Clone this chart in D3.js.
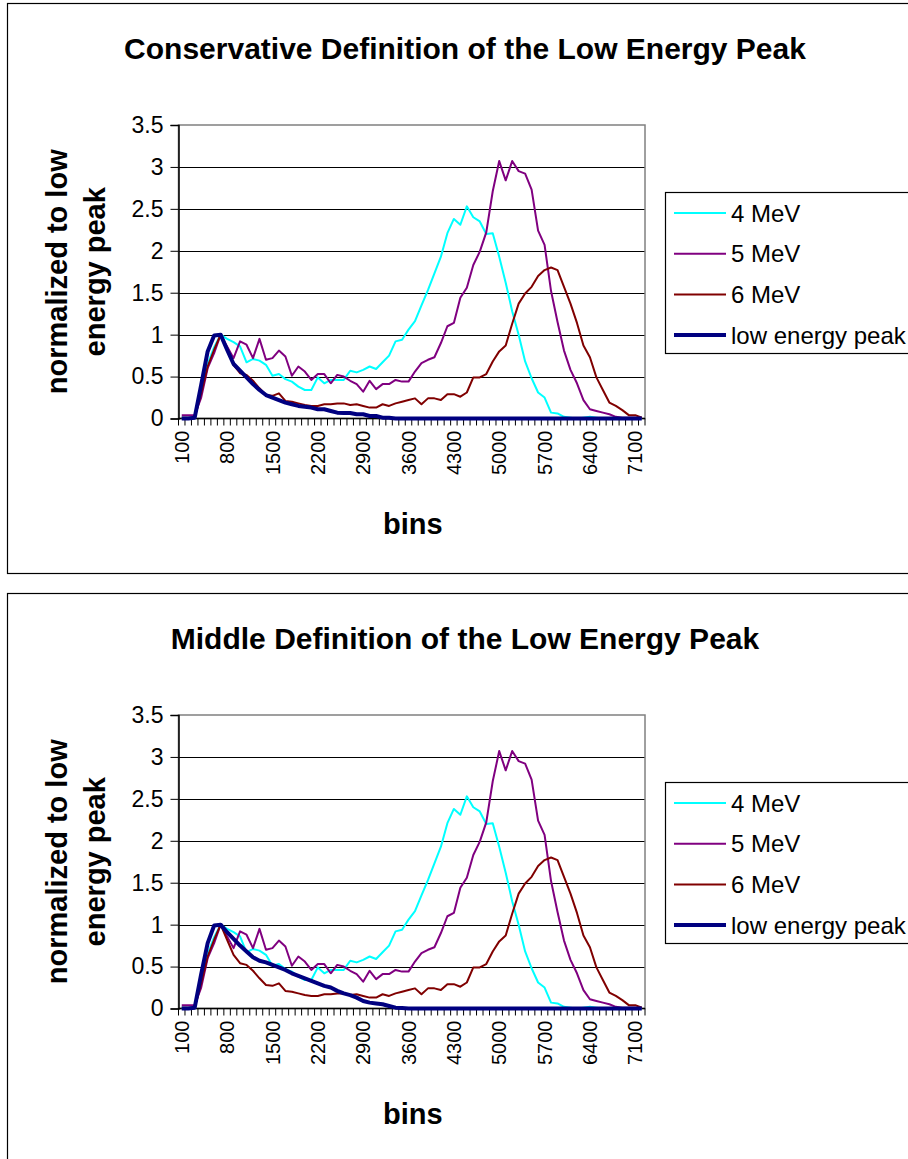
<!DOCTYPE html>
<html><head><meta charset="utf-8">
<script src="https://cdn.jsdelivr.net/npm/d3@7"></script>
<style>
body{margin:0;background:#fff}
svg{display:block}
text{font-family:"Liberation Sans",Arial,sans-serif;fill:#000}
</style>
</head><body>
<svg id="c" width="908" height="1159"></svg>
<script>
const bins = ["100","200","300","400","500","600","700","800","900","1000","1100","1200","1300","1400","1500","1600","1700","1800","1900","2000","2100","2200","2300","2400","2500","2600","2700","2800","2900","3000","3100","3200","3300","3400","3500","3600","3700","3800","3900","4000","4100","4200","4300","4400","4500","4600","4700","4800","4900","5000","5100","5200","5300","5400","5500","5600","5700","5800","5900","6000","6100","6200","6300","6400","6500","6600","6700","6800","6900","7000","7100","7200"];
const xTickLabels = ["100","800","1500","2200","2900","3600","4300","5000","5700","6400","7100"];
const yTicks = [0,0.5,1,1.5,2,2.5,3,3.5];
const yTickLabels = ["0","0.5","1","1.5","2","2.5","3","3.5"];

const mev4 = [0.01,0.01,0.01,0.35,0.65,0.85,1.0,0.95,0.91,0.86,0.67,0.71,0.69,0.64,0.51,0.53,0.47,0.44,0.38,0.34,0.34,0.49,0.42,0.46,0.46,0.46,0.57,0.55,0.58,0.62,0.59,0.67,0.75,0.92,0.94,1.06,1.16,1.35,1.53,1.73,1.93,2.21,2.38,2.31,2.53,2.40,2.35,2.20,2.21,1.93,1.62,1.28,1.0,0.68,0.48,0.31,0.25,0.07,0.06,0.02,0.01,0,0.01,0.02,0.01,0,0,0,0,0,0,0];
const mev5 = [0.04,0.04,0.04,0.25,0.6,0.78,1.0,0.86,0.72,0.92,0.88,0.72,0.95,0.70,0.72,0.81,0.74,0.51,0.62,0.56,0.46,0.53,0.53,0.42,0.52,0.5,0.45,0.41,0.32,0.45,0.35,0.41,0.41,0.46,0.44,0.44,0.56,0.66,0.70,0.73,0.90,1.10,1.14,1.44,1.56,1.83,1.99,2.22,2.71,3.07,2.84,3.07,2.95,2.92,2.73,2.24,2.07,1.52,1.15,0.81,0.58,0.42,0.22,0.11,0.09,0.07,0.05,0.02,0.01,0.01,0.01,0.01];
const mev6 = [0.01,0.01,0.01,0.3,0.62,0.82,1.0,0.82,0.64,0.54,0.52,0.45,0.36,0.28,0.27,0.30,0.21,0.20,0.18,0.16,0.15,0.15,0.17,0.17,0.18,0.18,0.16,0.17,0.15,0.13,0.13,0.17,0.15,0.18,0.2,0.22,0.24,0.17,0.24,0.24,0.22,0.29,0.29,0.26,0.31,0.49,0.49,0.53,0.68,0.8,0.87,1.13,1.37,1.49,1.57,1.70,1.77,1.80,1.77,1.57,1.37,1.14,0.87,0.73,0.49,0.34,0.19,0.15,0.1,0.04,0.04,0.01];
const lowPeakConservative = [0,0,0.01,0.4,0.8,0.99,1.0,0.82,0.65,0.57,0.49,0.41,0.34,0.28,0.25,0.22,0.19,0.17,0.15,0.14,0.13,0.11,0.11,0.09,0.07,0.065,0.065,0.05,0.05,0.03,0.03,0.01,0.01,0,0,0,0,0,0,0,0,0,0,0,0,0,0,0,0,0,0,0,0,0,0,0,0,0,0,0,0,0,0,0,0,0,0,0,0,0,0,0];
const lowPeakMiddle = [0,0,0.01,0.41,0.78,0.99,1.0,0.91,0.83,0.75,0.68,0.61,0.57,0.55,0.52,0.49,0.46,0.42,0.39,0.36,0.33,0.30,0.27,0.25,0.21,0.18,0.16,0.13,0.09,0.07,0.06,0.05,0.03,0.01,0.005,0,0,0,0,0,0,0,0,0,0,0,0,0,0,0,0,0,0,0,0,0,0,0,0,0,0,0,0,0,0,0,0,0,0,0,0,0];

const seriesNames = ["4 MeV","5 MeV","6 MeV","low energy peak"];
const seriesColors = ["#00FFFF","#800080","#800000","#000080"];
const seriesWidths = [2,2,2,4];
const chartTitles = ["Conservative Definition of the Low Energy Peak","Middle Definition of the Low Energy Peak"];
const peakSeries = [lowPeakConservative, lowPeakMiddle];

const svg = d3.select("#c");
const L = 178.5, R = 645, T = 125, B = 418.5;
const x = d3.scaleBand().domain(bins).range([L, R]);
const bw = x.bandwidth();
const y = d3.scaleLinear().domain([0, 3.5]).range([B, T]);

chartTitles.forEach((title, k) => {
  const g = svg.append("g").attr("transform", `translate(0,${k * 590})`);
  g.append("rect").attr("x", 7.5).attr("y", 3.5).attr("width", 930).attr("height", 570)
    .attr("fill", "#fff").attr("stroke", "#000").attr("stroke-width", 1.2);

  g.append("text").attr("x", 465).attr("y", 59).attr("text-anchor", "middle")
    .style("font-size", "30px").style("font-weight", "bold").text(title);

  // gridlines
  g.selectAll(".grid").data(yTicks.filter(v => v > 0 && v < 3.5)).enter().append("line")
    .attr("x1", L).attr("x2", R).attr("y1", d => Math.round(y(d)) + 0.5).attr("y2", d => Math.round(y(d)) + 0.5)
    .attr("stroke", "#000").attr("stroke-width", 1);
  // plot border
  g.append("rect").attr("x", L).attr("y", T).attr("width", R - L).attr("height", B - T)
    .attr("fill", "none").attr("stroke", "#808080").attr("stroke-width", 1.5);

  // y axis
  const yAxis = d3.axisLeft(y).tickValues(yTicks).tickFormat((d, i) => yTickLabels[i]).tickSize(8).tickPadding(7);
  const ya = g.append("g").attr("transform", `translate(${L},0)`).call(yAxis);
  ya.select(".domain").attr("stroke", "#000").attr("stroke-width", 1.5);
  ya.selectAll("text").style("font-size", "23px").style("font-family", '"Liberation Sans",Arial,sans-serif');

  // x axis
  const xa = g.append("g").attr("transform", `translate(0,${B})`);
  xa.append("line").attr("x1", L).attr("x2", R).attr("y1", 0).attr("y2", 0).attr("stroke", "#000").attr("stroke-width", 1.5);
  const bounds = bins.map(b => x(b)).concat([R]);
  xa.selectAll(".xt").data(bounds).enter().append("line")
    .attr("x1", d => d).attr("x2", d => d).attr("y1", 0).attr("y2", 7).attr("stroke", "#000").attr("stroke-width", 1);
  xa.selectAll(".xl").data(xTickLabels).enter().append("text")
    .attr("transform", d => `translate(${x(d) + bw / 2},12) rotate(-90)`)
    .attr("text-anchor", "end").attr("dy", "0.36em")
    .style("font-size", "20px").text(d => d);

  // axis titles
  const yt = ["normalized to low", "energy peak"];
  yt.forEach((t, j) => {
    g.append("text").attr("transform", `translate(${67 + j * 38},${(T + B) / 2}) rotate(-90)`)
      .attr("text-anchor", "middle").style("font-size", "29px").style("font-weight", "bold").text(t);
  });
  g.append("text").attr("x", (L + R) / 2 + 1).attr("y", 534).attr("text-anchor", "middle")
    .style("font-size", "29px").style("font-weight", "bold").text("bins");

  // lines
  const series = [mev4, mev5, mev6, peakSeries[k]];
  const line = d3.line().x((d, i) => x(bins[i]) + bw / 2).y(d => y(d));
  series.forEach((s, j) => {
    g.append("path").datum(s).attr("d", line).attr("fill", "none")
      .attr("stroke", seriesColors[j]).attr("stroke-width", seriesWidths[j]).attr("stroke-linejoin", "round");
  });

  // legend
  const lg = g.append("g");
  lg.append("rect").attr("x", 665.5).attr("y", 192.5).attr("width", 280).attr("height", 161)
    .attr("fill", "#fff").attr("stroke", "#000").attr("stroke-width", 1.2);
  seriesNames.forEach((n, j) => {
    const yy = 213 + j * 40.7;
    lg.append("line").attr("x1", 674).attr("x2", 726).attr("y1", yy).attr("y2", yy)
      .attr("stroke", seriesColors[j]).attr("stroke-width", seriesWidths[j]);
    lg.append("text").attr("x", 731).attr("y", yy).attr("dy", "0.36em").style("font-size", "24px").text(n);
  });
});
</script>
</body></html>
